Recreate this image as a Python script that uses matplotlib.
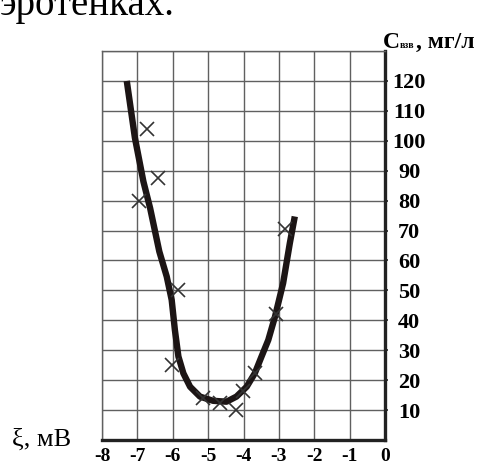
import matplotlib
matplotlib.use("Agg")
import matplotlib.pyplot as plt

# readings
curve_x = [-7.30, -7.07, -6.83, -6.64, -6.38, -6.17, -6.03, -5.94, -5.84, -5.70,
           -5.51, -5.23, -4.86, -4.48, -4.20, -3.91, -3.68, -3.49, -3.30, -3.11,
           -2.88, -2.69, -2.55]
curve_y = [120, 101, 86.4, 77.5, 63, 54.6, 46.8, 36.8, 27.9, 22.3,
           17.8, 14.5, 13.1, 12.8, 14.5, 17.8, 22.3, 27.9, 33.4, 41.2,
           52.4, 65.8, 74.7]

pts_x = [-6.74, -6.41, -6.95, -5.84, -6.03, -5.14, -4.67, -4.21, -4.02, -3.68, -3.07, -2.83]
pts_y = [104, 87.5, 80, 50, 25, 14, 12.5, 10, 16.5, 22.5, 42, 70.5]

xticks = [-8, -7, -6, -5, -4, -3, -2, -1, 0]
yticks = [10, 20, 30, 40, 50, 60, 70, 80, 90, 100, 110, 120]

plt.rcParams['font.family'] = ['Liberation Serif', 'DejaVu Serif']

W, H = 484, 469
fig = plt.figure(figsize=(W / 100, H / 100), dpi=100)
ax = fig.add_axes([102 / W, 29 / H, 283 / W, 389 / H])

ax.set_xlim(-8, 0)
ax.set_ylim(0, 130)
ax.set_xticks(xticks)
ax.set_yticks(yticks)
ax.set_yticks(list(range(0, 131, 10)), minor=True)
ax.grid(True, which='both', color='#606060', linewidth=1.0)
ax.set_axisbelow(True)

ax.yaxis.tick_right()
ax.tick_params(axis='y', which='major', length=2.5, width=1.2, color='#222222',
               pad=15, labelsize=16)
ax.tick_params(axis='y', which='minor', length=0)
ax.tick_params(axis='x', length=0, pad=6, labelsize=14)
for lab in ax.get_yticklabels():
    lab.set_ha('center')
    lab.set_fontweight('bold')
ax.set_xticklabels([str(v) for v in xticks], fontweight='bold')

for s in ['top', 'left']:
    ax.spines[s].set_color('#606060')
    ax.spines[s].set_linewidth(1.0)
for s in ['right', 'bottom']:
    ax.spines[s].set_color('#222222')
    ax.spines[s].set_linewidth(2.4)

ax.plot(curve_x, curve_y, color='#1c1515', linewidth=4.6,
        solid_capstyle='butt', solid_joinstyle='round', zorder=3)
ax.plot(pts_x, pts_y, linestyle='none', marker='x', markersize=10.5,
        markeredgewidth=1.2, color='#333333', zorder=4, clip_on=False)

# labels
fig.text(0 / W, 1 - 15 / H, 'эротенках.', fontsize=28, va='baseline', ha='left')
fig.text(12 / W, 1 - 446 / H, 'ξ, мВ', fontsize=19, va='baseline', ha='left')
fig.text(383 / W, 1 - 48 / H, 'C', fontsize=17, fontweight='bold',
         va='baseline', ha='left')
fig.text(400 / W, 1 - 48 / H, 'взв', fontsize=7, fontweight='bold',
         va='baseline', ha='left')
fig.text(416 / W, 1 - 48 / H, ', мг/л', fontsize=17, fontweight='bold',
         va='baseline', ha='left')

fig.savefig('out.png', dpi=100)
